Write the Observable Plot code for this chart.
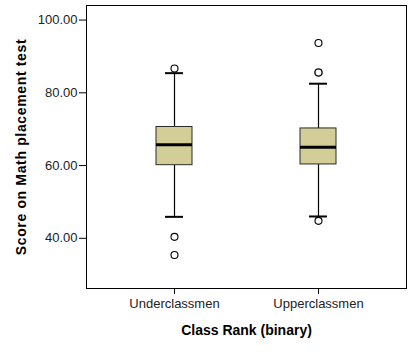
<!DOCTYPE html>
<html>
<head>
<meta charset="utf-8">
<script src="https://cdn.jsdelivr.net/npm/d3@7"></script>
<script src="https://cdn.jsdelivr.net/npm/@observablehq/plot@0.6"></script>
<style>
  html, body { margin: 0; padding: 0; background: #fff; }
</style>
</head>
<body>
<div id="chart"></div>
<script>
const categories = ["Underclassmen", "Upperclassmen"];
const lowerWhisker = [45.9, 46.0];
const q1 = [60.1, 60.3];
const median = [65.7, 65.0];
const q3 = [70.6, 70.2];
const upperWhisker = [85.4, 82.5];
const outlierGroup = ["Underclassmen", "Underclassmen", "Underclassmen", "Upperclassmen", "Upperclassmen", "Upperclassmen", "Upperclassmen"];
const outlierValue = [86.7, 40.4, 35.4, 93.7, 85.6, 85.6, 44.8];
const yTicks = [40, 60, 80, 100];

const boxes = categories.map((c, i) => ({
  cat: c, lo: lowerWhisker[i], q1: q1[i], med: median[i], q3: q3[i], hi: upperWhisker[i]
}));
const outliers = outlierGroup.map((c, i) => ({cat: c, v: outlierValue[i]}));

const chart = Plot.plot({
  width: 413,
  height: 352,
  marginLeft: 86,
  marginTop: 5,
  marginRight: 7,
  marginBottom: 64,
  style: {fontFamily: "Arial, 'Liberation Sans', sans-serif", color: "#000", background: "#fff"},
  x: {type: "band", domain: categories, paddingInner: 0.751, paddingOuter: 0.484},
  y: {domain: [26.2, 104]},
  marks: [
    Plot.frame({stroke: "#000", strokeWidth: 1}),
    Plot.ruleX(boxes, {x: "cat", y1: "lo", y2: "q1", stroke: "#000", strokeWidth: 1.2}),
    Plot.ruleX(boxes, {x: "cat", y1: "q3", y2: "hi", stroke: "#000", strokeWidth: 1.2}),
    Plot.tickY(boxes, {x: "cat", y: "lo", stroke: "#000", strokeWidth: 2, insetLeft: 9, insetRight: 9}),
    Plot.tickY(boxes, {x: "cat", y: "hi", stroke: "#000", strokeWidth: 2, insetLeft: 9, insetRight: 9}),
    Plot.barY(boxes, {x: "cat", y1: "q1", y2: "q3", fill: "#d3ce97", stroke: "#2a2a2a", strokeWidth: 1}),
    Plot.tickY(boxes, {x: "cat", y: "med", stroke: "#000", strokeWidth: 3}),
    Plot.dot(outliers, {x: "cat", y: "v", r: 3.5, fill: "#fff", stroke: "#000", strokeWidth: 1.1}),
    Plot.axisY({ticks: yTicks, tickFormat: d => d.toFixed(2), tickSize: 7, tickPadding: 2, fontSize: 13, stroke: "#000", fill: "#222",
      label: "Score on Math placement test", labelAnchor: "center", labelArrow: "none", labelOffset: 70}),
    Plot.axisX({tickSize: 6, tickPadding: 4, fontSize: 13, stroke: "#000", fill: "#222",
      label: "Class Rank (binary)", labelAnchor: "center", labelArrow: "none", labelOffset: 46})
  ]
});

chart.querySelectorAll("g[aria-label='y-axis label'], g[aria-label='x-axis label']").forEach(g => {
  g.setAttribute("font-weight", "bold");
  g.setAttribute("font-size", "14");
  g.setAttribute("fill", "#000");
});
chart.querySelectorAll("g[aria-label='y-axis label'] text").forEach(t => {
  t.setAttribute("letter-spacing", "0.65");
});
document.getElementById("chart").appendChild(chart);
</script>
</body>
</html>
